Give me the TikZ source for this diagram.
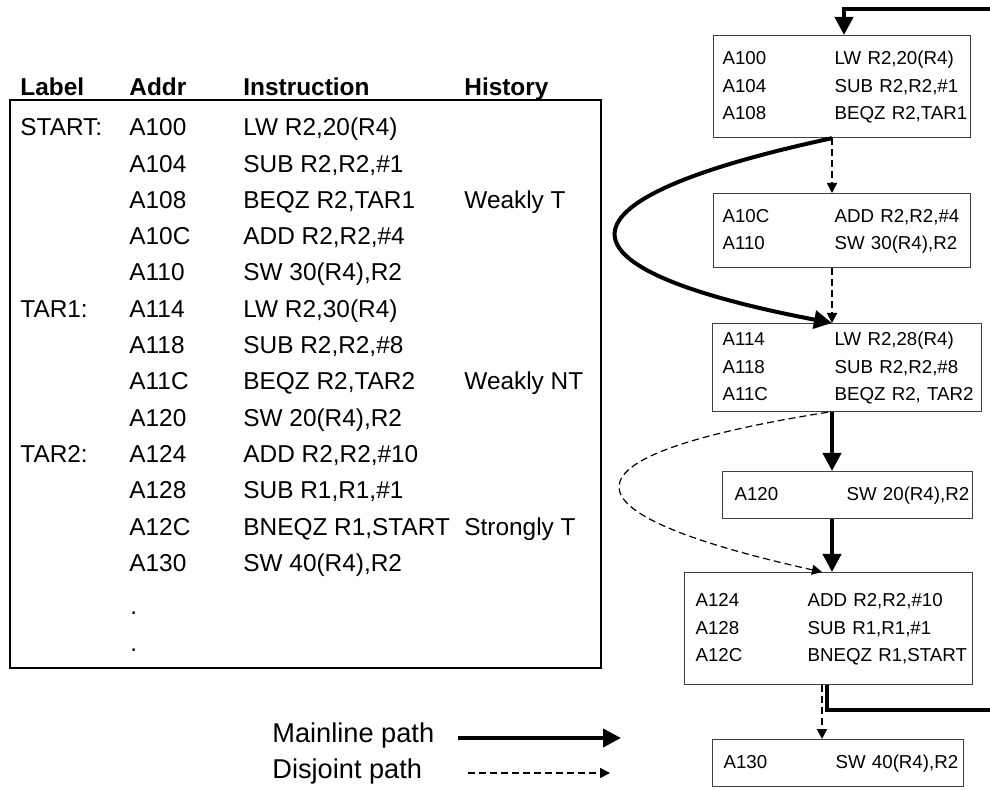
\documentclass[tikz,border=0pt]{standalone}
\usepackage{fontspec}
\setmainfont{Liberation Sans}
\usetikzlibrary{arrows.meta,positioning}
\newcommand{\codeRows}[1]{\begin{tabular}{@{}p{56pt}@{}l@{}}#1\end{tabular}}
\tikzset{
  tblText/.style={anchor=west, inner sep=0pt, text height=10.8pt, text depth=2pt,
                  font=\fontsize{12.2}{14}\selectfont},
  tblHead/.style={tblText, font=\fontsize{12.2}{14}\selectfont\bfseries},
  keyText/.style={tblText, font=\fontsize{13.6}{15}\selectfont},
  tblFrame/.style={draw=black, line width=1.3pt},
  codeBlk/.style={draw=black!75, line width=0.6pt, anchor=north west,
                  inner ysep=0pt, inner xsep=#1, align=left,
                  font=\fontsize{9.35}{13.75}\selectfont},
  mainPath/.style={line width=2pt, -{Triangle[length=9pt,width=9pt]}},
  disjPath/.style={line width=0.9pt, dash pattern=on 3.5pt off 2pt,
                   -{Triangle[length=5pt,width=5pt]}}
}

\begin{document}
\begin{tikzpicture}[x=0.5pt,y=-0.5pt]
  \useasboundingbox (0,0) rectangle (990,790);

  % program listing
  \draw[tblFrame] (10,100) rectangle (601,668);
  \node[tblHead] (hLabel) at (20,87) {Label};
  \node[tblHead] (hAddr) at (129,87) {Addr};
  \node[tblHead] (hInstr) at (243,87) {Instruction};
  \node[tblHead] (hHist) at (464,87) {History};
  \foreach \adr/\ins [count=\i from 0] in {A100/{LW R2,20(R4)}, A104/{SUB R2,R2,\#1},
      A108/{BEQZ R2,TAR1}, A10C/{ADD R2,R2,\#4}, A110/{SW 30(R4),R2},
      A114/{LW R2,30(R4)}, A118/{SUB R2,R2,\#8}, A11C/{BEQZ R2,TAR2},
      A120/{SW 20(R4),R2}, A124/{ADD R2,R2,\#10}, A128/{SUB R1,R1,\#1},
      A12C/{BNEQZ R1,START}, A130/{SW 40(R4),R2}}{
    \node[tblText] (adr\i) at (129,127+36.3*\i) {\adr};
    \node[tblText] (ins\i) at (243,127+36.3*\i) {\ins};
  }
  \node[tblText] (dotA) at (130,606) {.};
  \node[tblText] (dotB) at (130,643) {.};
  \node[tblText] (labStart) at (20,127) {START:};
  \node[tblText] (labTarA) at (20,127+36.3*5) {TAR1:};
  \node[tblText] (labTarB) at (20,127+36.3*9) {TAR2:};
  \node[tblText] (hisA) at (464,127+36.3*2) {Weakly T};
  \node[tblText] (hisB) at (464,127+36.3*7) {Weakly NT};
  \node[tblText] (hisC) at (464,127+36.3*11) {Strongly T};

  % basic blocks
  \node[codeBlk=4.5pt, text width=119.5pt, minimum height=51pt] (blkA) at (713,35)
    {\codeRows{A100 & LW R2,20(R4)\\ A104 & SUB R2,R2,\#1\\ A108 & BEQZ R2,TAR1}};
  \node[codeBlk=4.5pt, text width=119.5pt, minimum height=37pt] (blkB) at (713,193)
    {\codeRows{A10C & ADD R2,R2,\#4\\ A110 & SW 30(R4),R2}};
  \node[codeBlk=5pt, text width=124.5pt, minimum height=44pt] (blkC) at (712,323)
    {\codeRows{A114 & LW R2,28(R4)\\ A118 & SUB R2,R2,\#8\\ A11C & BEQZ R2, TAR2}};
  \node[codeBlk=6pt, text width=113pt, minimum height=23.5pt] (blkD) at (722,471)
    {\codeRows{A120 & SW 20(R4),R2}};
  \node[codeBlk=5.5pt, text width=133pt, minimum height=56pt] (blkE) at (684,572)
    {\codeRows{A124 & ADD R2,R2,\#10\\ A128 & SUB R1,R1,\#1\\ A12C & BNEQZ R1,START}};
  \node[codeBlk=5.5pt, text width=114.5pt, minimum height=23.5pt] (blkF) at (712,739)
    {\codeRows{A130 & SW 40(R4),R2}};

  \coordinate (spine) at (832,0);
  \coordinate (spineOut) at (827,0);
  \coordinate (spineLow) at (822,0);
  \coordinate (loopLow) at (1010,710);
  \coordinate (loopTop) at (1010,9);
  \coordinate (entry) at (844,9);

  % paths
  \draw[disjPath] (blkA.south -| spine) -- (blkB.north -| spine);
  \draw[disjPath] (blkB.south -| spine) -- (blkC.north -| spine);
  \draw[mainPath] (blkA.south -| spine) .. controls (545,200) and (545,268) .. (blkC.north -| spine);
  \draw[mainPath] (blkC.south -| spine) -- (blkD.north -| spine);
  \draw[mainPath] (blkD.south -| spine) -- (blkE.north -| spine);
  \draw[disjPath, line width=0.6pt] ([xshift=-2pt]blkC.south -| spine) .. controls (552,456) and (552,512) .. (blkE.north -| spineLow);
  \draw[disjPath] (blkE.south -| spineLow) -- (blkF.north -| spineLow);
  \draw[mainPath] (blkE.south -| spineOut) |- (loopLow) -- (loopTop) -- (entry) -- (blkA.north -| entry);

  % legend
  \node[keyText] (keyMain) at (272,734) {Mainline path};
  \node[keyText] (keyDisj) at (272,770) {Disjoint path};
  \coordinate (keyMainA) at (458,738);
  \coordinate (keyMainB) at (621,738);
  \coordinate (keyDisjA) at (468,773);
  \coordinate (keyDisjB) at (610,773);
  \draw[mainPath] (keyMainA) -- (keyMainB);
  \draw[disjPath, line width=0.7pt] (keyDisjA) -- (keyDisjB);
\end{tikzpicture}
\end{document}
